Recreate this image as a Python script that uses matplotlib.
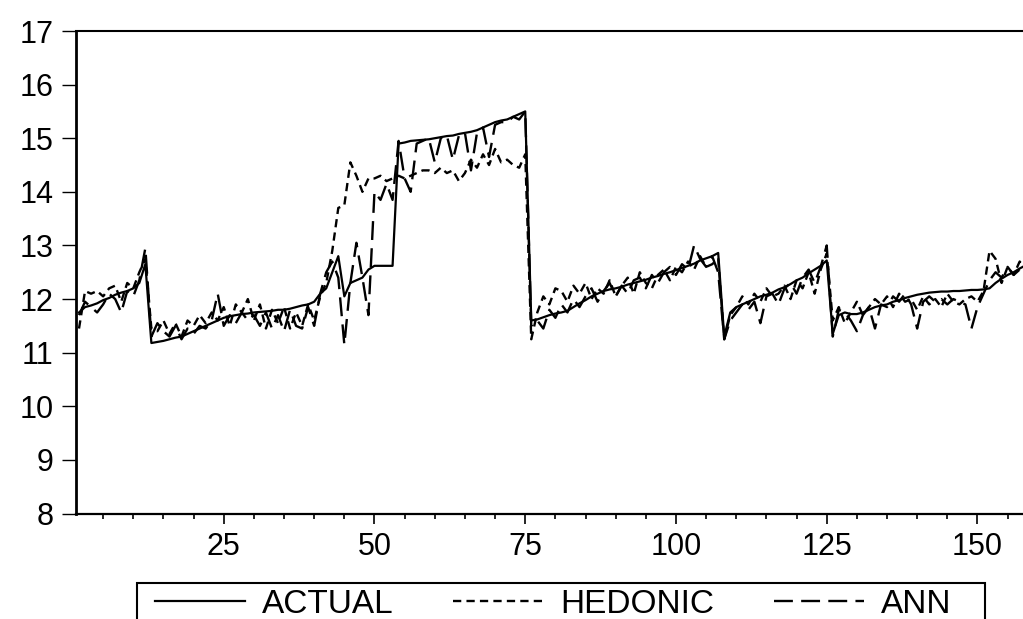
import numpy as np
import matplotlib
matplotlib.use('Agg')
import matplotlib.pyplot as plt
from matplotlib.ticker import MultipleLocator
from matplotlib.patches import Rectangle

plt.rcParams['font.family'] = ['Liberation Sans', 'DejaVu Sans']

# observations 1..158
actual = [
    11.75, 11.85, 11.88, 11.92, 11.98, 12.02, 12.08, 12.12, 12.15, 12.2,
    12.3, 12.65, 11.18, 11.2, 11.22, 11.25, 11.28, 11.3, 11.35, 11.4,
    11.45, 11.5, 11.55, 11.6, 11.65, 11.68, 11.7, 11.72, 11.73, 11.75,
    11.76, 11.77, 11.78, 11.8, 11.8, 11.82, 11.85, 11.88, 11.9, 11.95,
    12.1, 12.2, 12.5, 12.8, 12.05, 12.3, 12.35, 12.4, 12.55, 12.62,
    12.62, 12.62, 12.62, 14.9, 14.92, 14.95, 14.96, 14.97, 14.98, 15.0,
    15.02, 15.04, 15.05, 15.08, 15.1, 15.12, 15.15, 15.2, 15.25, 15.3,
    15.33, 15.35, 15.4, 15.45, 15.5,
    11.6, 11.62, 11.66, 11.7, 11.73, 11.75, 11.78, 11.85, 11.92, 11.98,
    12.05, 12.1, 12.15, 12.18, 12.2, 12.23, 12.27, 12.3, 12.33, 12.36,
    12.4, 12.43, 12.47, 12.5, 12.54, 12.58, 12.62, 12.66, 12.72, 12.76,
    12.8, 12.86, 11.3, 11.75, 11.85,
    11.9, 11.95, 12.0, 12.05, 12.08, 12.12, 12.18, 12.22, 12.28, 12.35,
    12.4, 12.48, 12.55, 12.62, 12.72,
    11.35, 11.7, 11.75, 11.72, 11.72, 11.75, 11.8, 11.85, 11.88, 11.9,
    11.95, 11.98, 12.02, 12.05, 12.08, 12.1, 12.12, 12.13, 12.14, 12.14,
    12.15, 12.15, 12.16, 12.17, 12.17, 12.18, 12.2, 12.3, 12.38, 12.45,
    12.5, 12.57, 12.63,
]

hedonic = [
    11.45, 12.15, 12.1, 12.15, 12.05, 12.2, 12.25, 11.95, 12.3, 12.2, 12.5, 12.75,
    11.45, 11.4, 11.6, 11.35, 11.55, 11.3, 11.6, 11.5, 11.7, 11.55, 11.75, 11.6,
    11.85, 11.5, 11.9, 11.75, 12.0, 11.6, 11.9, 11.45, 11.8, 11.55, 11.85, 11.45,
    11.75, 11.5, 11.9, 11.6, 12.05,
    12.3, 12.9, 13.7, 13.75, 14.55, 14.3, 14.0, 14.25, 14.25, 14.3, 14.2, 14.25,
    14.3, 14.25, 14.3, 14.35, 14.4, 14.4, 14.35, 14.45, 14.35, 14.4, 14.2, 14.35,
    14.6, 14.45, 14.7, 14.5, 14.8, 14.55, 14.6, 14.5, 14.45, 14.7,
    11.25, 11.75, 12.05, 11.9, 12.2, 12.15, 11.95, 12.25, 12.1, 12.3, 12.0, 12.2,
    12.1, 12.35, 12.05, 12.25, 12.4, 12.1, 12.5, 12.3, 12.2, 12.45, 12.55, 12.35,
    12.6, 12.5, 12.7, 12.55, 12.8, 12.6, 12.65, 12.75,
    11.25, 11.7, 11.85, 12.05, 11.9, 12.1, 11.95, 12.2, 12.05, 12.1, 12.25, 12.0,
    12.35, 12.2, 12.5, 12.1, 12.55, 12.85,
    11.6, 11.85, 11.55, 11.75, 11.95, 11.7, 11.85, 12.0, 11.9, 12.05, 11.85, 12.1,
    11.95, 12.0, 11.8, 12.05, 11.9, 12.0, 11.85, 12.1, 11.95, 11.9, 12.0, 12.05,
    11.95, 12.15, 12.9, 12.75, 12.3, 12.6, 12.45, 12.7, 12.55,
]

ann = [
    11.7, 11.95, 11.85, 11.75, 11.9, 12.1, 12.0, 11.75, 12.15, 12.05, 12.35, 12.95,
    11.3, 11.55, 11.4, 11.3, 11.5, 11.25, 11.45, 11.35, 11.5, 11.45, 11.6, 12.1,
    11.5, 11.7, 11.55, 11.75, 11.6, 11.7, 11.5, 11.75, 11.45, 11.7, 11.4, 11.8,
    11.5, 11.45, 11.85, 11.5, 12.1,
    12.5, 12.7, 12.4, 11.15, 12.3, 13.05, 12.4, 11.7, 14.0, 13.85, 14.15, 13.85,
    14.95, 14.25, 14.0, 14.9, 14.95, 15.0, 14.55, 15.0, 15.05, 14.6, 15.05, 15.1,
    14.4, 15.1, 15.2, 14.65, 15.25, 15.3, 15.3, 15.4, 15.35, 15.5,
    11.5, 11.6, 11.45, 11.8, 11.65, 11.9, 11.75, 12.0, 11.85, 12.05, 12.2, 11.95,
    12.15, 12.3, 12.05, 12.25, 12.1, 12.35, 12.4, 12.2, 12.45, 12.3, 12.5, 12.6,
    12.45, 12.65, 12.55, 13.0, 12.75, 12.6, 12.8, 12.5,
    11.25, 11.6, 11.75, 11.9, 11.8, 11.95, 11.55, 12.05, 12.1, 11.9, 12.2, 12.3,
    12.1, 12.4, 12.55, 12.3, 12.6, 13.0,
    11.3, 11.8, 11.75, 11.6, 11.4, 11.7, 11.85, 11.45, 11.9, 11.85, 12.05, 11.95,
    12.1, 11.9, 11.45, 11.95, 12.05, 11.95, 12.0, 11.9, 12.0, 11.95, 11.9, 11.45,
    11.85, 12.1, 12.35, 12.5, 12.4, 12.6, 12.45, 12.55, 12.5,
]

obs = np.arange(1, len(actual) + 1)

W, H = 1023, 619
fig = plt.figure(figsize=(W / 100, H / 100), dpi=100)
ax = fig.add_axes([76 / W, 1 - 513.5 / H, 1 - 76 / W, (513.5 - 31) / H])

ax.plot(obs, actual, color='black', lw=1.6, label='ACTUAL')
ax.plot(obs, hedonic, color='black', lw=1.7, dashes=(3.5, 2.2), label='HEDONIC')
ax.plot(obs, ann, color='black', lw=1.7, dashes=(8, 3.5), label='ANN')

ax.set_xlim(0.5, 157.55)
ax.set_ylim(8, 17)
ax.set_yticks(range(8, 18))
ax.xaxis.set_major_locator(MultipleLocator(25))
ax.xaxis.set_minor_locator(MultipleLocator(5))
ax.set_xticks([25, 50, 75, 100, 125, 150])

ax.spines['right'].set_visible(False)
ax.spines['left'].set_linewidth(2.0)
ax.spines['bottom'].set_linewidth(1.6)
ax.spines['top'].set_linewidth(1.5)

ax.tick_params(axis='y', direction='out', length=10, width=1.0, labelsize=22, pad=6)
ax.tick_params(axis='x', which='major', direction='out', length=7, width=1.2, labelsize=22, pad=6)
ax.tick_params(axis='x', which='minor', direction='out', length=3.5, width=1.2)

# legend without its own frame, box drawn separately (box runs off the bottom)
fig.legend(loc='upper left', bbox_to_anchor=(155 / W, 1 - 589 / H),
           ncol=3, fontsize=24, frameon=False,
           handlelength=2.7, handletextpad=0.5, columnspacing=1.8,
           borderpad=0, borderaxespad=0)
fig.patches.append(Rectangle((137 / W, -0.05), (985 - 137) / W, 0.05 + (H - 583) / H,
                             transform=fig.transFigure, fill=False,
                             edgecolor='black', linewidth=1.5))

fig.savefig('out.png', dpi=100)
